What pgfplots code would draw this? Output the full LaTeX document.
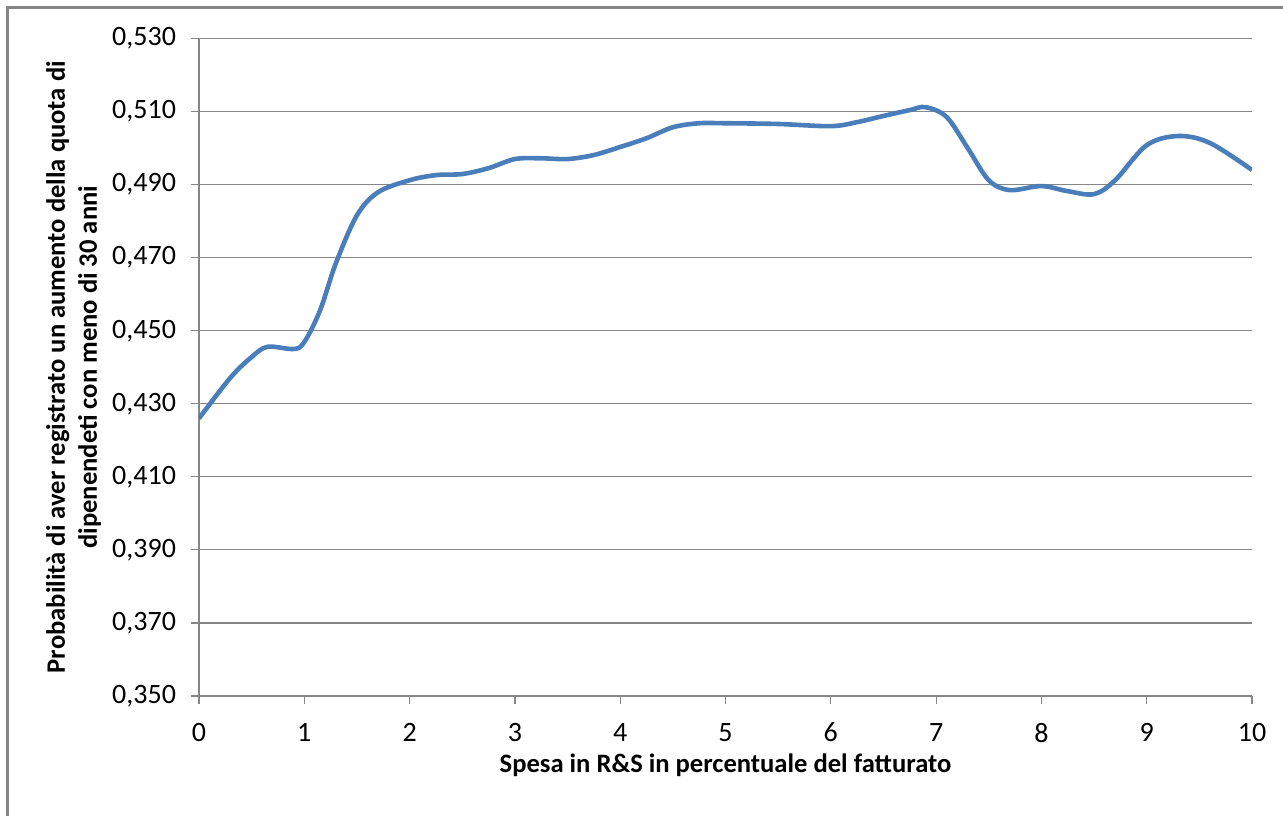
\documentclass[border=0pt]{standalone}
\usepackage{fontspec}
\setmainfont{Carlito}
\usepackage{pgfplots}
\pgfplotsset{compat=1.18}
\definecolor{serie}{HTML}{4A7EBB}
\definecolor{griglia}{HTML}{868686}
\begin{document}
\begin{tikzpicture}[font=\fontsize{14}{16}\selectfont]
  \useasboundingbox (-99.5pt,-59.5pt) rectangle (542pt,348pt);
  \draw[griglia, line width=1.5pt] (-95.5pt,-80pt) -- (-95.5pt,344pt) -- (560pt,344pt);
  \begin{axis}[
      at={(0,0)}, anchor=south west,
      scale only axis,
      width=526.5pt, height=328.75pt,
      xmin=0, xmax=10, ymin=0.35, ymax=0.53,
      xtick={0,1,...,10},
      ytick={0.35,0.37,...,0.531},
      axis lines*=left,
      axis line style={-, draw=griglia, line width=0.6pt},
      tick style={draw=griglia, line width=0.6pt},
      tick align=outside,
      major tick length=4pt,
      ymajorgrids,
      grid style={draw=griglia, line width=0.6pt},
      /pgf/number format/.cd, fixed, fixed zerofill, precision=3, use comma, assume math mode=true,
      /pgfplots/.cd,
      xticklabel style={/pgf/number format/precision=0, /pgf/number format/fixed zerofill=false, yshift=-6pt},
      yticklabel style={xshift=-4pt},
      xlabel={Spesa in R\&S in percentuale del fatturato},
      ylabel={Probabilità di aver registrato un aumento della quota di\\dipenendeti con meno di 30 anni},
      label style={font=\fontsize{13.3}{16}\selectfont\bfseries},
      xlabel style={at={(axis description cs:0.5,-0.105)}, anchor=center},
      ylabel style={at={(axis description cs:-0.119,0.5)}, anchor=center, align=center},
    ]
    \addplot[serie, line width=2.3pt, smooth, tension=0.55] coordinates {
      (0,0.4260) (0.3,0.4372) (0.5,0.4428) (0.65,0.4456) (0.9,0.4450)
      (1.0,0.4469) (1.15,0.4556) (1.3,0.4685) (1.5,0.4816) (1.7,0.4879)
      (2.0,0.4912) (2.25,0.4926) (2.5,0.4929) (2.75,0.4945) (3.0,0.4970)
      (3.25,0.4972) (3.5,0.4970) (3.75,0.4981) (4.0,0.5003) (4.25,0.5027)
      (4.5,0.5057) (4.75,0.5068) (5.0,0.5068) (5.5,0.5066) (6.0,0.5060)
      (6.25,0.5071) (6.5,0.5088) (6.75,0.5104) (6.9,0.5112) (7.1,0.5085)
      (7.3,0.5000) (7.5,0.4912) (7.7,0.4885) (8.0,0.4896) (8.25,0.4882)
      (8.5,0.4874) (8.7,0.4912) (9.0,0.5008) (9.3,0.5033) (9.6,0.5014)
      (10.0,0.4940)
    };
  \end{axis}
\end{tikzpicture}
\end{document}
